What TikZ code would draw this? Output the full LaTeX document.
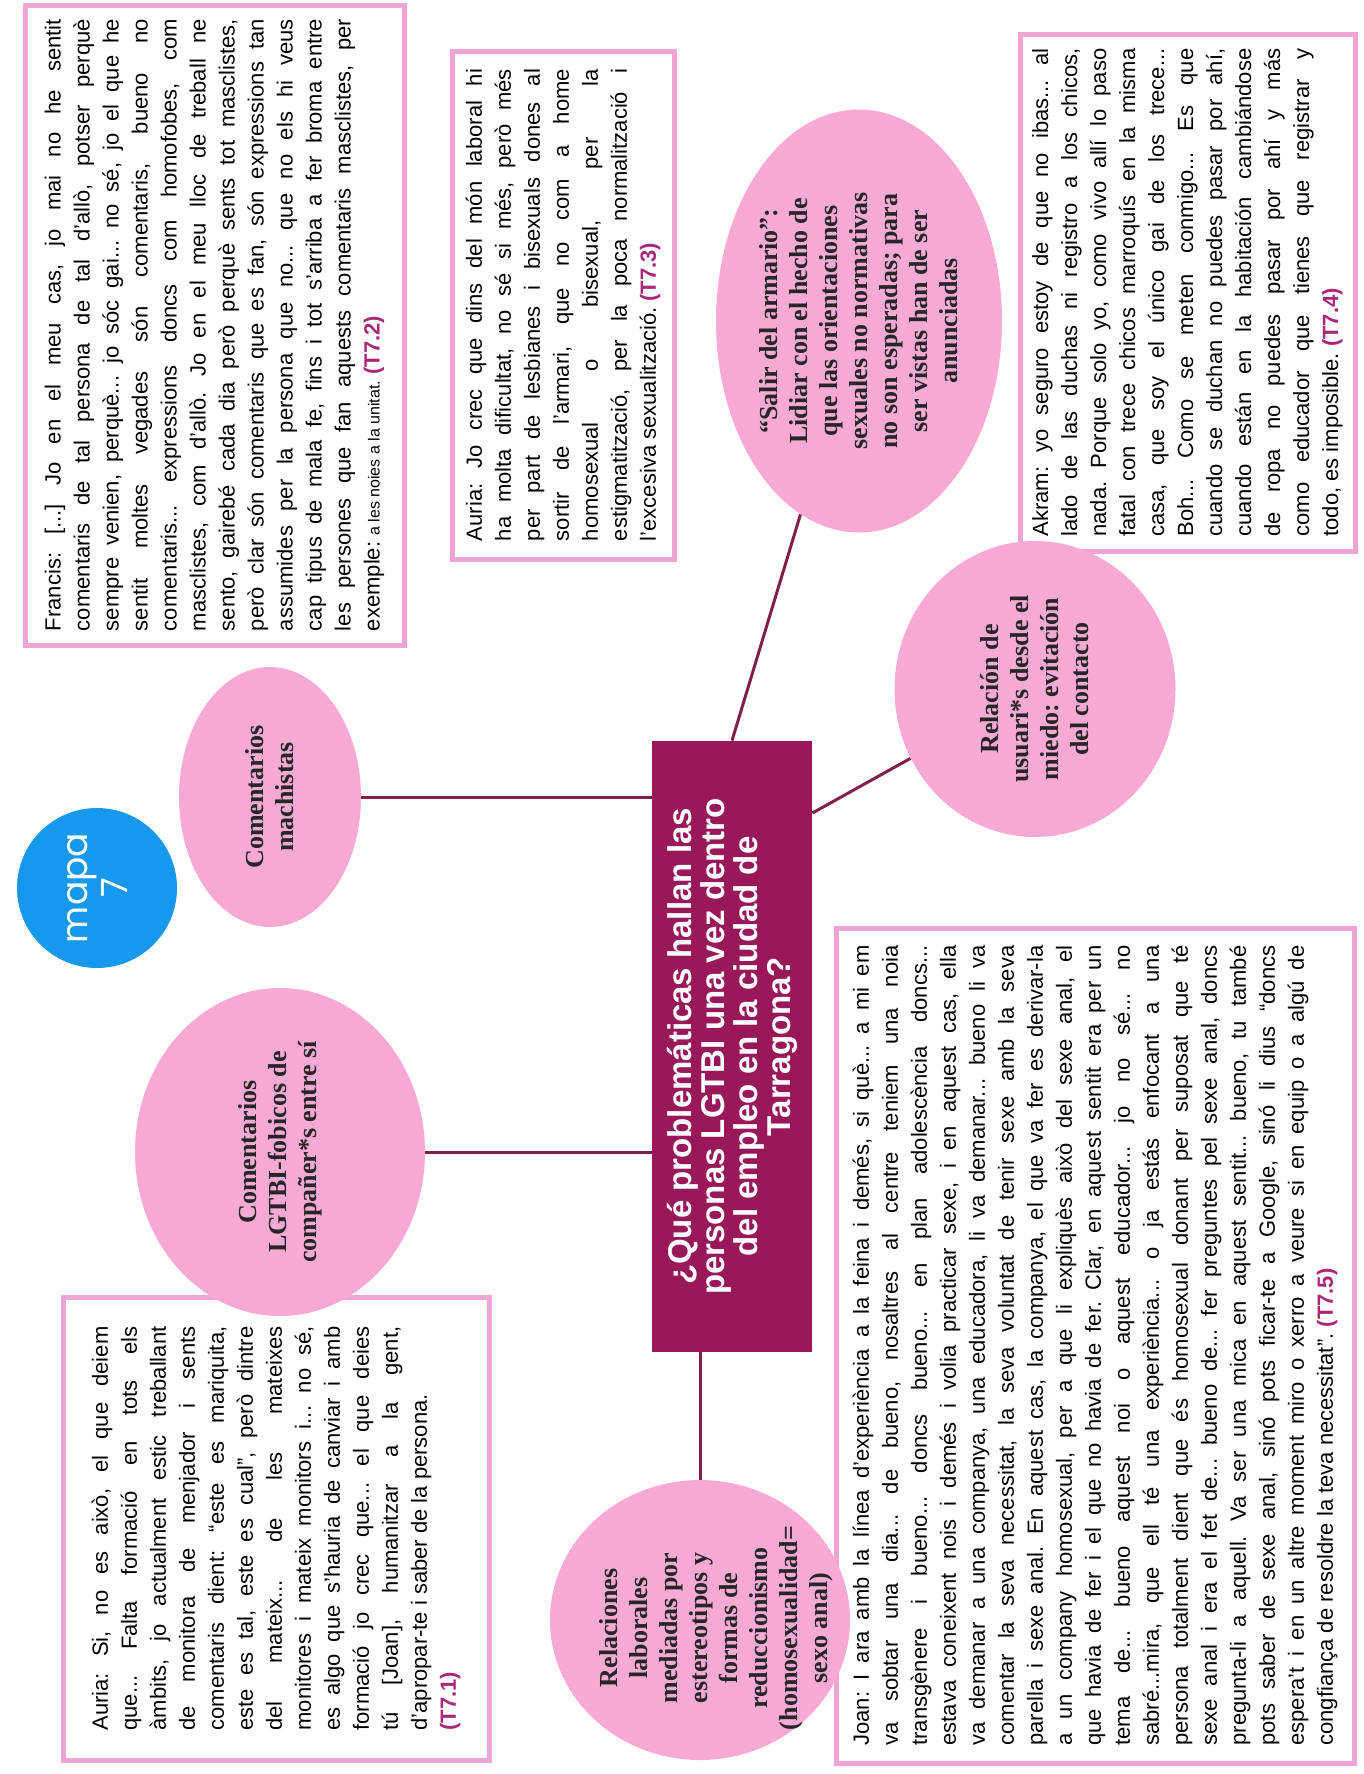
\documentclass[tikz,border=0pt]{standalone}
\usepackage{fontspec}
\setmainfont{Liberation Sans}
\newfontfamily\bubblefont{Liberation Serif}
\newfontfamily\mapfont{Poppins}
\usetikzlibrary{shapes.geometric}
\definecolor{bubblepink}{RGB}{248,170,212}
\definecolor{framepink}{RGB}{240,165,215}
\definecolor{plum}{RGB}{152,24,90}
\definecolor{linkplum}{RGB}{130,30,75}
\definecolor{tagplum}{RGB}{170,40,120}
\definecolor{mapblue}{RGB}{22,152,238}
\newcommand{\quotetag}[1]{{\bfseries\color{tagplum}(#1)}}
\hyphenpenalty=10000
\frenchspacing

\begin{document}
\begin{tikzpicture}[x=0.5pt, y=-0.5pt,
	quote/.style={draw=framepink, line width=2.5pt, fill=white, rotate=90, align=justify, inner sep=0pt, font=\fontsize{11}{14.5}\selectfont},
	topic/.style={ellipse, fill=bubblepink, inner sep=0pt},
	topictext/.style={rotate=90, align=center, text=black!85, font=\bubblefont\bfseries\fontsize{13}{15}\selectfont},
	link/.style={draw=linkplum, line width=1.5pt}]

	\useasboundingbox (0,0) rectangle (1364,1774);

	% quote boxes
	\node (francis) [quote, minimum width=320pt, minimum height=189.5pt, text width=306pt] at (214.5,325) {Francis: [...] Jo en el meu cas, jo mai no he sentit\linebreak comentaris de tal persona de tal d'allò, potser perquè\linebreak sempre venien, perquè... jo sóc gai... no sé, jo el que he\linebreak sentit moltes vegades són comentaris, bueno no\linebreak comentaris... expressions doncs com homofobes, com\linebreak masclistes, com d'allò. Jo en el meu lloc de treball ne\linebreak sento, gairebé cada dia però perquè sents tot masclistes,\linebreak però clar són comentaris que es fan, són expressions tan\linebreak assumides per la persona que no... que no els hi veus\linebreak cap tipus de mala fe, fins i tot s'arriba a fer broma entre\linebreak les persones que fan aquests comentaris masclistes, per\linebreak exemple: {\fontsize{8}{14.5}\selectfont a les noies a la unitat.} \quotetag{T7.2}};
	\node (auria3) [quote, minimum width=254pt, minimum height=111pt, text width=236pt] at (563,305) {Auria: Jo crec que dins del món laboral hi\linebreak ha molta dificultat, no sé si més, però més\linebreak per part de lesbianes i bisexuals dones al\linebreak sortir de l'armari, que no com a home\linebreak homosexual o bisexual, per la\linebreak estigmatització, per la poca normalització i\linebreak l'excesiva sexualització. \quotetag{T7.3}};
	\node (akram) [quote, minimum width=258.5pt, minimum height=167.5pt, text width=244pt] at (1187.5,292.5) {Akram: yo seguro estoy de que no ibas... al\linebreak lado de las duchas ni registro a los chicos,\linebreak nada. Porque solo yo, como vivo allí lo paso\linebreak fatal con trece chicos marroquís en la misma\linebreak casa, que soy el único gai de los trece...\linebreak Boh... Como se meten conmigo... Es que\linebreak cuando se duchan no puedes pasar por ahí,\linebreak cuando están en la habitación cambiándose\linebreak de ropa no puedes pasar por ahí y más\linebreak como educador que tienes que registrar y\linebreak todo, es imposible. \quotetag{T7.4}};
	\node (auria1) [quote, minimum width=231.5pt, minimum height=213pt, text width=202pt] at (276,1528.5) {Auria: Si, no es això, el que deiem\linebreak que... Falta formació en tots els\linebreak àmbits, jo actualment estic treballant\linebreak de monitora de menjador i sents\linebreak comentaris dient: “este es mariquita,\linebreak este es tal, este es cual”, però dintre\linebreak del mateix... de les mateixes\linebreak monitores i mateix monitors i... no sé,\linebreak es algo que s'hauria de canviar i amb\linebreak formació jo crec que... el que deies\linebreak tú [Joan], humanitzar a la gent,\linebreak d'apropar-te i saber de la persona.\\ \quotetag{T7.1}};
	\node (joan) [quote, minimum width=417.5pt, minimum height=259pt, text width=400pt] at (1095,1345.5) {Joan: I ara amb la línea d'experiència a la feina i demés, si què... a mi em\linebreak va sobtar una dia... de bueno, nosaltres al centre teniem una noia\linebreak transgènere i bueno... doncs bueno... en plan adolescència doncs...\linebreak estava coneixent nois i demés i volia practicar sexe, i en aquest cas, ella\linebreak va demanar a una companya, una educadora, li va demanar... bueno li va\linebreak comentar la seva necessitat, la seva voluntat de tenir sexe amb la seva\linebreak parella i sexe anal. En aquest cas, la companya, el que va fer es derivar-la\linebreak a un company homosexual, per a que li expliquès això del sexe anal, el\linebreak que havia de fer i el que no havia de fer. Clar, en aquest sentit era per un\linebreak tema de... bueno aquest noi o aquest educador... jo no sé... no\linebreak sabré...mira, que ell té una experiència... o ja estás enfocant a una\linebreak persona totalment dient que és homosexual donant per suposat que té\linebreak sexe anal i era el fet de... bueno de... fer preguntes pel sexe anal, doncs\linebreak pregunta-li a aquell. Va ser una mica en aquest sentit... bueno, tu també\linebreak pots saber de sexe anal, sinó pots ficar-te a Google, sinó li dius “doncs\linebreak espera't i en un altre moment miro o xerro a veure si en equip o a algú de\linebreak congfiança de resoldre la teva necessitat”. \quotetag{T7.5}};

	% topics
	\node (mach) [topic, minimum width=91pt, minimum height=130pt] at (270,797) {};
	\node (fob) [topic, minimum width=145pt, minimum height=164pt] at (280,1152) {};
	\node (rela) [topic, minimum width=150pt, minimum height=140pt] at (700,1620) {};
	\node (salir) [topic, minimum width=143pt, minimum height=211.5pt] at (859,321) {};
	\node (relac) [topic, minimum width=140.5pt, minimum height=148pt] at (1035,689) {};
	\node (mapa) [circle, fill=mapblue, minimum size=80pt, inner sep=0pt] at (97,888) {};
	\node (q) [rectangle, fill=plum, minimum width=80pt, minimum height=305.5pt, inner sep=0pt] at (732,1046.5) {};

	\draw[link] (mach) -- (mach -| q.west);
	\draw[link] (fob) -- (fob -| q.west);
	\draw[link] (rela) -- (rela |- q.south);
	\draw[link] (q.north) -- (salir);
	\draw[link] (q.71) -- (relac);

	\node (lmach) [topictext] at (mach) {Comentarios\\machistas};
	\node (lfob) [topictext] at (fob) {Comentarios\\LGTBI-fobicos de\\compañer*s entre sí};
	\node (lrela) [topictext] at (716,1628) {Relaciones\\laborales\\mediadas por\\estereotipos y\\formas de\\reduccionismo\\(homosexualidad=\\sexo anal)};
	\node (lsalir) [topictext] at (salir) {“Salir del armario”:\\Lidiar con el hecho de\\que las orientaciones\\sexuales no normativas\\no son esperadas; para\\ser vistas han de ser\\anunciadas};
	\node (lrelac) [topictext] at (relac) {Relación de\\usuari*s desde el\\miedo: evitación\\del contacto};
	\node (lmapa) [rotate=90, align=center, text=white, font=\mapfont\fontsize{18}{20}\selectfont] at (mapa) {mapa\\7};
	\node (lq) [rotate=90, align=center, text=white, font=\bfseries\fontsize{16.5}{16.5}\selectfont] at (q) {¿Qué problemáticas hallan las\\personas LGTBI una vez dentro\\del empleo en la ciudad de\\Tarragona?};

\end{tikzpicture}
\end{document}
